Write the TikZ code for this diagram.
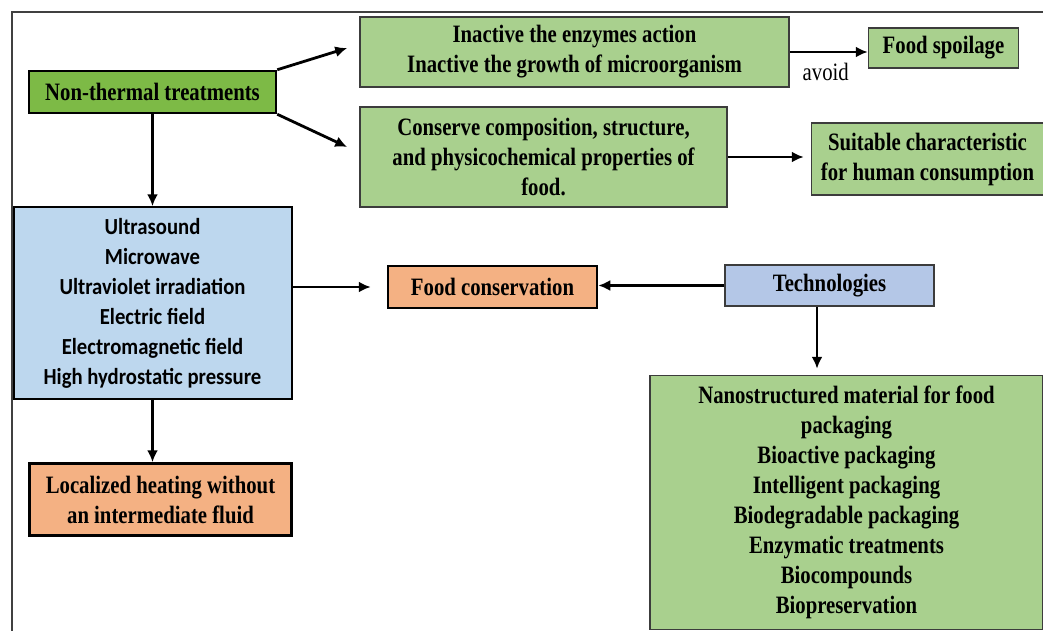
\documentclass[tikz,border=0pt]{standalone}
\usepackage{fontspec}
\setmainfont{Liberation Serif}[FakeStretch=0.83]
\newfontfamily\calibrifont{Carlito}[FakeStretch=0.9]
\usetikzlibrary{positioning, arrows.meta}
\definecolor{ntgreen}{RGB}{125, 186, 70}
\definecolor{boxgreen}{RGB}{169, 208, 142}
\definecolor{methodblue}{RGB}{189, 215, 238}
\definecolor{techblue}{RGB}{180, 199, 231}
\definecolor{consorange}{RGB}{244, 177, 131}
\definecolor{rimgray}{RGB}{60, 60, 60}

\begin{document}
\begin{tikzpicture}[
    x=1pt, y=-1pt,
    base/.style={
      draw, inner sep=0pt, align=center,
      font=\fontsize{25}{30}\selectfont\bfseries
    },
    greenbox/.style={base, fill=boxgreen, draw=rimgray, line width=1.5pt},
    ntbox/.style={base, fill=ntgreen, line width=2.5pt},
    orangebox/.style={base, fill=consorange, line width=2.5pt},
    techbox/.style={base, fill=techblue, draw=rimgray, line width=1.5pt},
    methodbox/.style={
      base, fill=methodblue, line width=2pt,
      font=\calibrifont\fontsize{23}{30}\selectfont\bfseries
    },
    edge/.style={-{Latex[length=12pt, width=11pt]}, line width=2.8pt},
    frame/.style={line width=1.5pt, black!75},
]
    \useasboundingbox (0,0) rectangle (1043,631);

    % Frame
    \draw[frame] (12,631) -- (12,12) -- (1043,12);

    % Left column
    \node[ntbox, minimum width=247pt, minimum height=42pt] (nt) at (152.5,92)
      {Non-thermal treatments};
    \node[methodbox, minimum width=278pt, minimum height=192pt,
      below=92pt of nt] (methods)
      {Ultrasound\\Microwave\\Ultraviolet irradiation\\Electric field\\
       Electromagnetic field\\High hydrostatic pressure};
    \node[orangebox, minimum width=262pt, minimum height=72pt,
      below=62pt of methods, xshift=8pt] (heat)
      {Localized heating without\\an intermediate fluid};

    % Top row
    \node[greenbox, minimum width=429pt, minimum height=70pt] (act) at (574.5,52)
      {Inactive the enzymes action\\Inactive the growth of microorganism};
    \node[greenbox, minimum width=150pt, minimum height=40pt,
      right=78pt of act, yshift=4pt] (spoil) {Food spoilage};
    \node[greenbox, minimum width=367pt, minimum height=100pt] (props) at (543.5,157)
      {Conserve composition, structure,\\and physicochemical properties of\\food.};
    \node[greenbox, minimum width=232pt, minimum height=72pt,
      right=83pt of props, yshift=-2pt] (suit)
      {Suitable characteristic\\for human consumption};

    % Middle row
    \node[orangebox, minimum width=209pt, minimum height=42pt] (cons) at (492.5,287)
      {Food conservation};
    \node[techbox, minimum width=209pt, minimum height=41pt,
      right=126pt of cons, yshift=1.5pt] (tech) {Technologies};
    \node[greenbox, minimum width=393pt, minimum height=254pt,
      below=68pt of tech, xshift=17pt] (list)
      {Nanostructured material for food\\packaging\\Bioactive packaging\\
       Intelligent packaging\\Biodegradable packaging\\Enzymatic treatments\\
       Biocompounds\\Biopreservation};

    % Connectors
    \draw[edge] (nt.north east) -- ([xshift=-12pt, yshift=4pt]act.west);
    \draw[edge] (nt.south east) -- ([xshift=-12pt, yshift=10pt]props.west);
    \draw[edge] (act.east) -- (act.east -| spoil.west)
      node[midway, yshift=-20pt, xshift=-3pt, font=\fontsize{25}{30}\selectfont] {avoid};
    \draw[edge, shorten >=7pt] (props.east) -- (props.east -| suit.west);
    \draw[edge] (nt.south) -- (nt.south |- methods.north);
    \draw[edge] (methods.south) -- (methods.south |- heat.north);
    \draw[edge, shorten >=16pt] (methods.east |- cons.west) -- (cons.west);
    \draw[edge] (tech.west) -- (tech.west -| cons.east);
    \draw[edge, shorten >=6pt] ([xshift=-12.5pt]tech.south)
      -- ([xshift=-12.5pt]tech.south |- list.north);
\end{tikzpicture}
\end{document}
